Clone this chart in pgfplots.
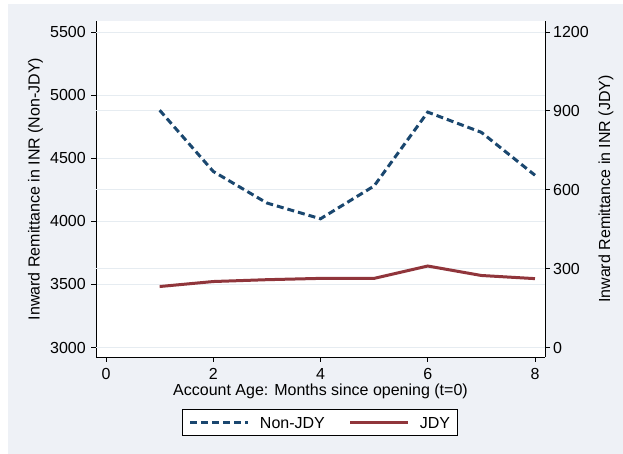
\documentclass[border=0pt]{standalone}
\usepackage{pgfplots}
\pgfplotsset{compat=1.18}
\usepackage{fontspec}
\setmainfont{Liberation Sans}
\definecolor{bgc}{RGB}{238,241,246}
\definecolor{gridc}{RGB}{230,236,241}
\definecolor{navyc}{RGB}{26,71,111}
\definecolor{maroonc}{RGB}{144,53,59}
\begin{document}
\begin{tikzpicture}
\path[use as bounding box] (0,0) rectangle (623pt,454pt);
\fill[white] (0,0) rectangle (623pt,454pt);
\fill[bgc] (8pt,0) rectangle (623pt,450pt);
\pgfplotsset{
  common/.style={
    at={(96pt,97pt)}, anchor=south west, scale only axis,
    width=449pt, height=336pt,
    xmin=-0.187, xmax=8.187,
    font=\fontsize{16}{19}\selectfont,
    /pgf/number format/assume math mode=true,
    /pgf/number format/1000 sep={},
    axis line style={-, black, line width=0.8pt},
    tick style={black, line width=0.8pt},
    tick align=outside, major tick length=5pt,
    grid style={gridc, line width=0.8pt},
  }
}
% left scale: plot region, grid, axes, labels
\begin{axis}[common,
  ymin=2925, ymax=5587,
  axis background/.style={fill=white},
  ymajorgrids,
  axis x line*=bottom, axis y line*=left,
  xtick={0,2,4,6,8}, ytick={3000,3500,...,5500},
  xlabel={Account Age: Months since opening (t=0)},
  ylabel={Inward Remittance in INR (Non-JDY)},
  xlabel style={at={(axis description cs:0.5,-0.1155)}, anchor=base, inner sep=0pt},
  ylabel style={at={(axis description cs:-0.1258,0.5)}, anchor=base, inner sep=0pt},
  xticklabel style={anchor=north, inner sep=0pt, yshift=-6pt},
  yticklabel style={anchor=east, inner sep=0pt, xshift=-5pt},
]
\end{axis}
% right scale (JDY)
\begin{axis}[common,
  ymin=-36, ymax=1241.9,
  ymajorgrids,
  axis x line=none, axis y line*=right,
  ytick={0,300,...,1200},
  ylabel={Inward Remittance in INR (JDY)},
  ylabel style={at={(axis description cs:1.1448,0.5)}, anchor=base, inner sep=0pt},
  yticklabel style={anchor=west, inner sep=0pt, xshift=3pt},
]
\addplot[maroonc, line width=3pt] coordinates {
  (1,232) (2,251) (3,258) (4,263) (5,263) (6,310) (7,274) (8,262)
};
\end{axis}
% left scale again: Non-JDY line and legend
\begin{axis}[common,
  ymin=2925, ymax=5587, hide axis,
  legend style={at={(axis description cs:0.4978,-0.1949)}, anchor=center,
    legend columns=2, draw=black, line width=0.8pt, fill=white,
    inner xsep=7pt, inner ysep=7pt,
    nodes={inner sep=0pt, text height=11.6pt, text depth=0pt},
    /tikz/every odd column/.append style={column sep=10pt},
    /tikz/every even column/.append style={column sep=24pt}},
  legend image code/.code={\draw[#1] (0pt,0pt) -- (58pt,0pt);},
]
\addplot[navyc, line width=3pt, dash pattern=on 7pt off 4pt] coordinates {
  (1,4880) (2,4395) (3,4145) (4,4020) (5,4280) (6,4865) (7,4705) (8,4365)
};
\addlegendentry{Non-JDY}
\addlegendimage{maroonc, line width=3pt}
\addlegendentry{JDY}
\end{axis}
\end{tikzpicture}
\end{document}
